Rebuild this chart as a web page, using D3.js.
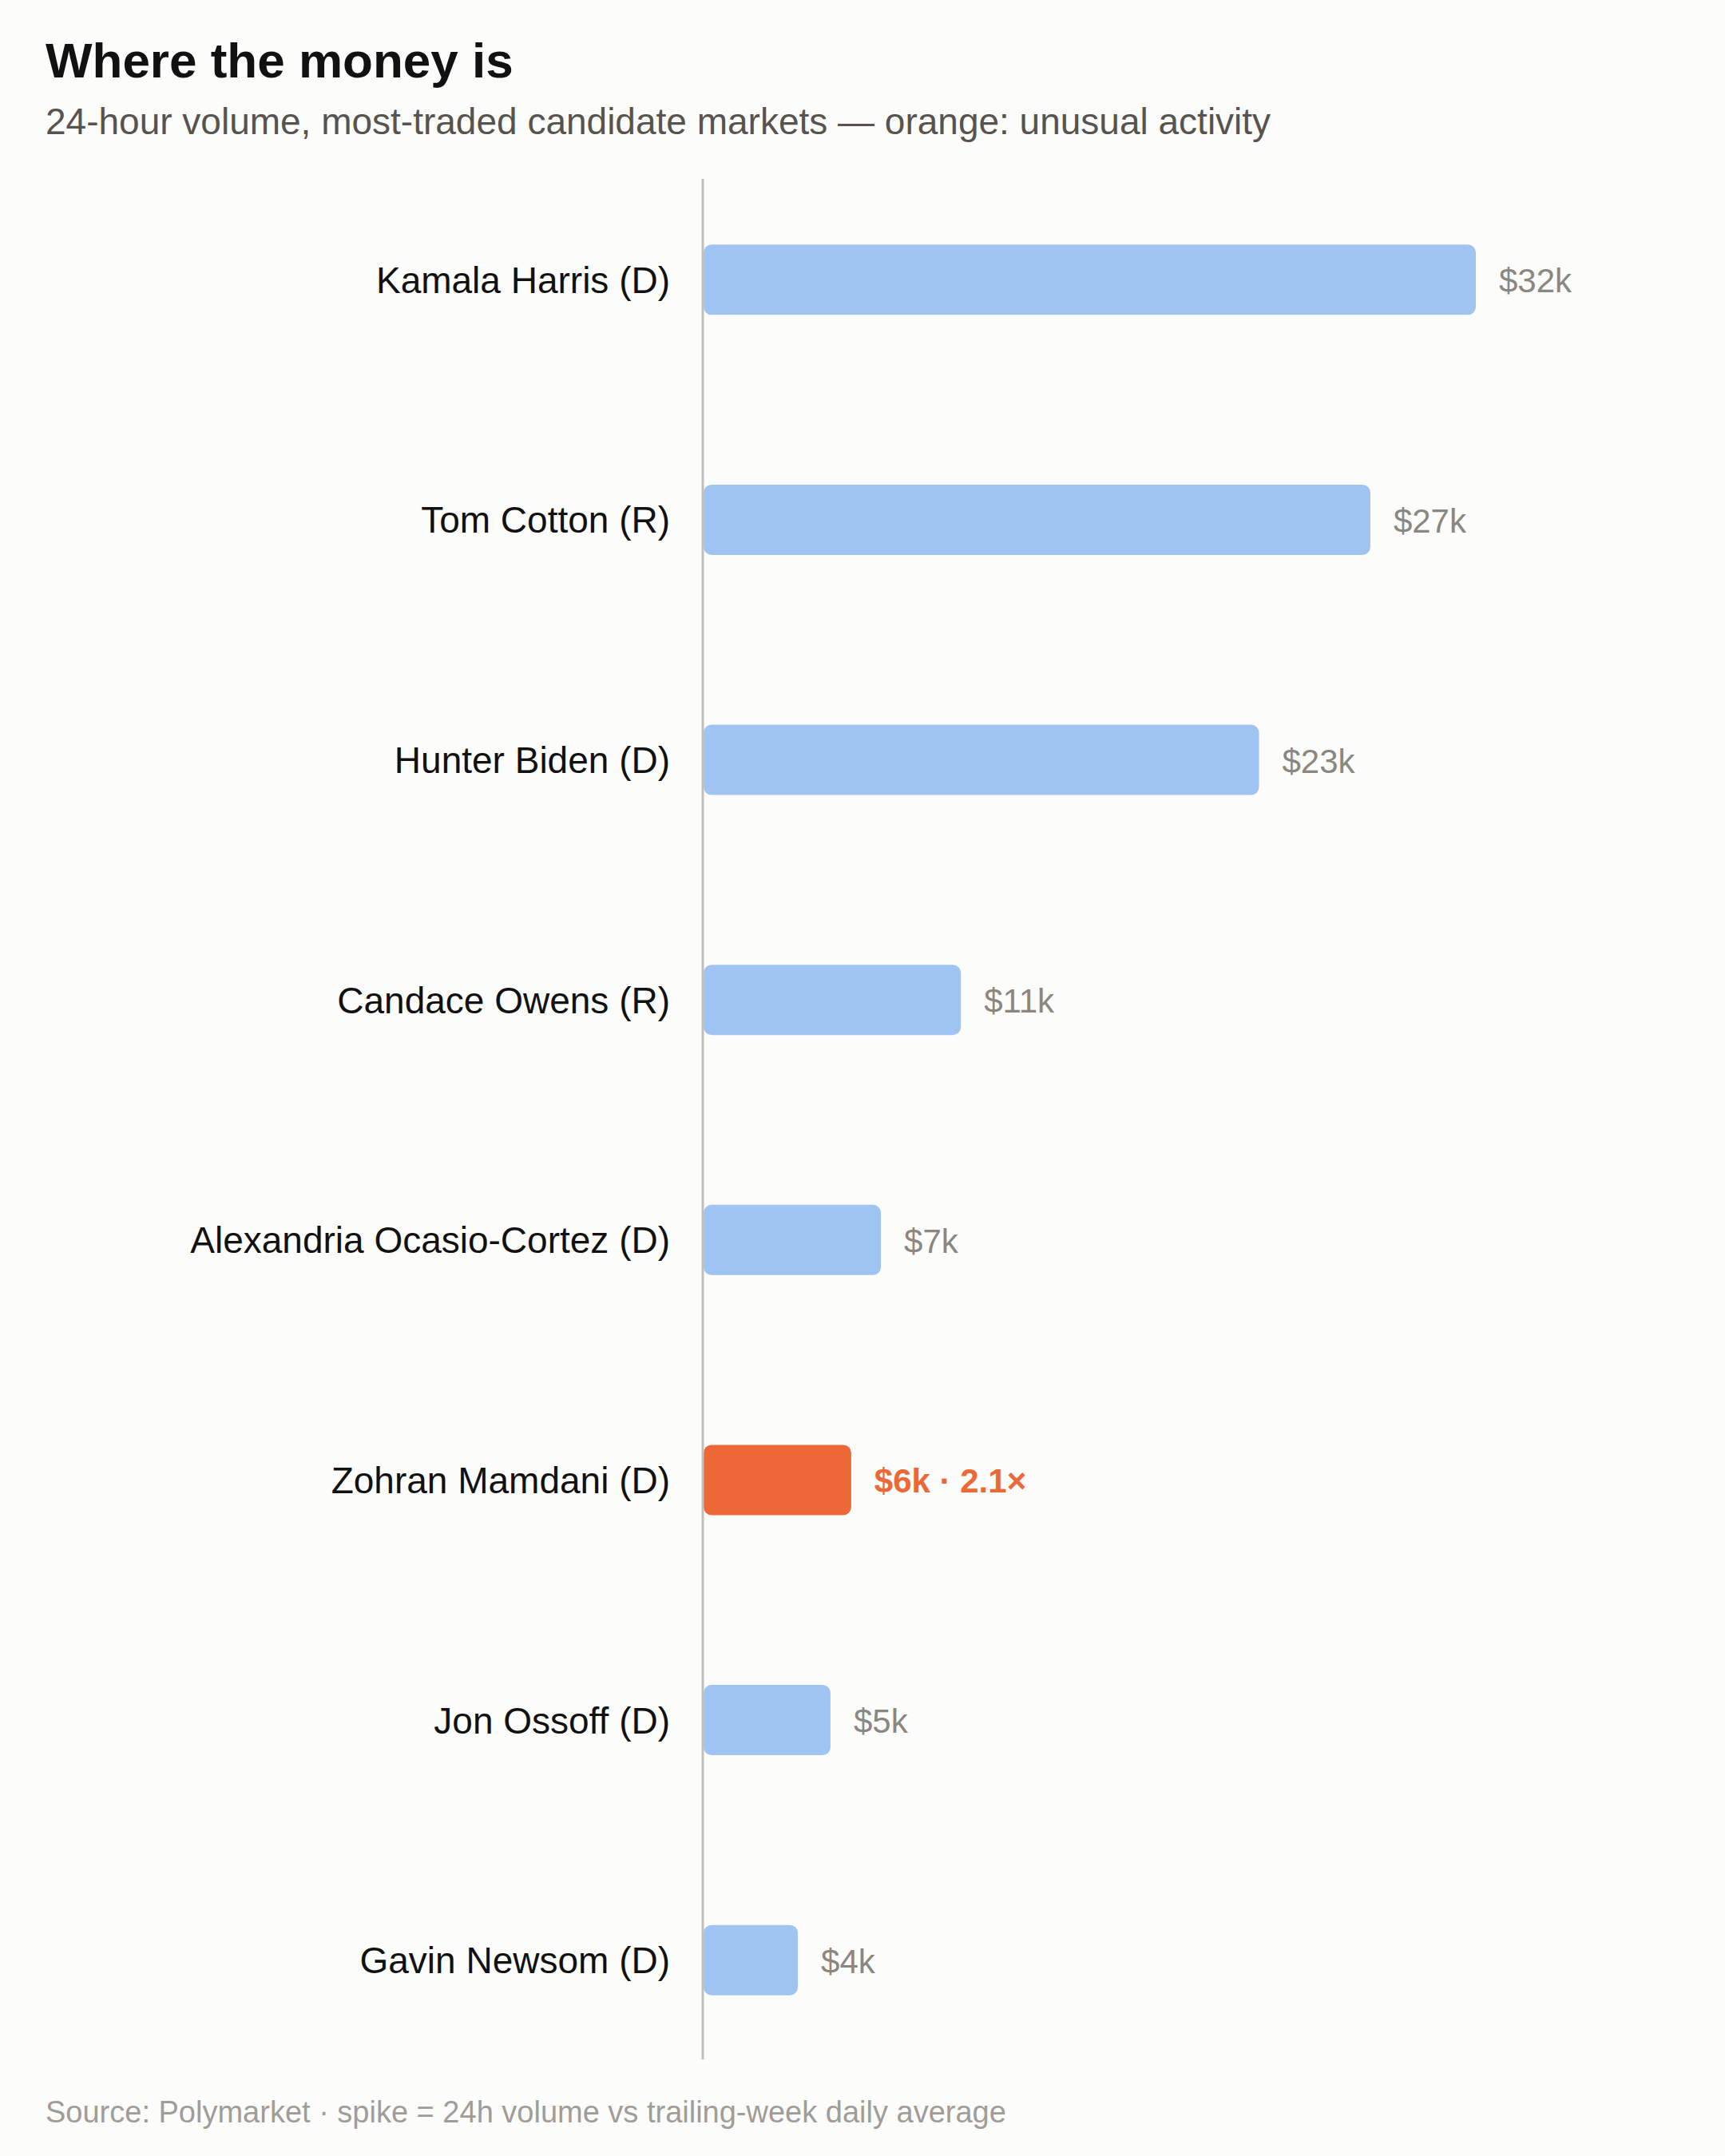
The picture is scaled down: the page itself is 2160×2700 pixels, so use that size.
<!DOCTYPE html>
<html>
<head>
<meta charset="utf-8">
<script src="https://cdn.jsdelivr.net/npm/d3@7"></script>
<style>
  html, body { margin: 0; padding: 0; background: #fcfcfb; }
  svg { display: block; font-family: "Liberation Sans", Arial, Helvetica, sans-serif; }
</style>
</head>
<body>
<svg id="chart" width="2160" height="2700"></svg>
<script>
// ---- data ----
const candidates = [
  "Kamala Harris (D)",
  "Tom Cotton (R)",
  "Hunter Biden (D)",
  "Candace Owens (R)",
  "Alexandria Ocasio-Cortez (D)",
  "Zohran Mamdani (D)",
  "Jon Ossoff (D)",
  "Gavin Newsom (D)"
];
const volumeK = [31.7, 27.37, 22.8, 10.56, 7.28, 6.06, 5.21, 3.87];
const spikeRatio = [null, null, null, null, null, 2.1, null, null];

const titleText = "Where the money is";
const subtitleText = "24-hour volume, most-traded candidate markets \u2014 orange: unusual activity";
const sourceText = "Source: Polymarket \u00b7 spike = 24h volume vs trailing-week daily average";

// ---- layout ----
const W = 2160, H = 2700;
const axisX = 880;
const colors = { normal: "#a0c4f2", spike: "#ec6836", axis: "#c2c0b8" };

const rows = candidates.map((c, i) => ({ name: c, v: volumeK[i], spike: spikeRatio[i] }));

const svg = d3.select("#chart");
svg.append("rect").attr("width", W).attr("height", H).attr("fill", "#fcfcfb");

const y = d3.scaleBand()
  .domain(candidates)
  .range([200, 2605])
  .paddingInner(0.707)
  .paddingOuter(0.3535);

const x = d3.scaleLinear()
  .domain([0, d3.max(volumeK)])
  .range([axisX + 1, 1848]);

// title & subtitle
svg.append("text").attr("x", 57).attr("y", 97)
  .attr("font-size", 62).attr("font-weight", "bold").attr("fill", "#111")
  .text(titleText);
svg.append("text").attr("x", 57).attr("y", 168)
  .attr("font-size", 46).attr("fill", "#57534e")
  .text(subtitleText);

// bars
svg.append("g").selectAll("rect").data(rows).join("rect")
  .attr("x", x(0))
  .attr("y", d => y(d.name))
  .attr("width", d => x(d.v) - x(0))
  .attr("height", y.bandwidth())
  .attr("rx", 10).attr("ry", 10)
  .attr("fill", d => d.spike ? colors.spike : colors.normal);

// axis line (left baseline)
svg.append("line")
  .attr("x1", axisX).attr("x2", axisX)
  .attr("y1", 224).attr("y2", 2579)
  .attr("stroke", colors.axis).attr("stroke-width", 3);

// category labels
svg.append("g").selectAll("text").data(rows).join("text")
  .attr("x", 839)
  .attr("y", d => y(d.name) + y.bandwidth() / 2 + 16.5)
  .attr("text-anchor", "end")
  .attr("font-size", 46).attr("fill", "#111")
  .text(d => d.name);

// value labels
const fmt = d => "$" + Math.round(d.v) + "k" + (d.spike ? " \u00b7 " + d3.format(".1f")(d.spike) + "\u00d7" : "");
svg.append("g").selectAll("text").data(rows).join("text")
  .attr("x", d => x(d.v) + 29)
  .attr("y", d => y(d.name) + y.bandwidth() / 2 + 16)
  .attr("font-size", 42)
  .attr("font-weight", d => d.spike ? "bold" : "normal")
  .attr("fill", d => d.spike ? colors.spike : "#8a8780")
  .text(fmt);

// footer
svg.append("text").attr("x", 57).attr("y", 2658)
  .attr("font-size", 38).attr("fill", "#a09d98")
  .text(sourceText);
</script>
</body>
</html>
